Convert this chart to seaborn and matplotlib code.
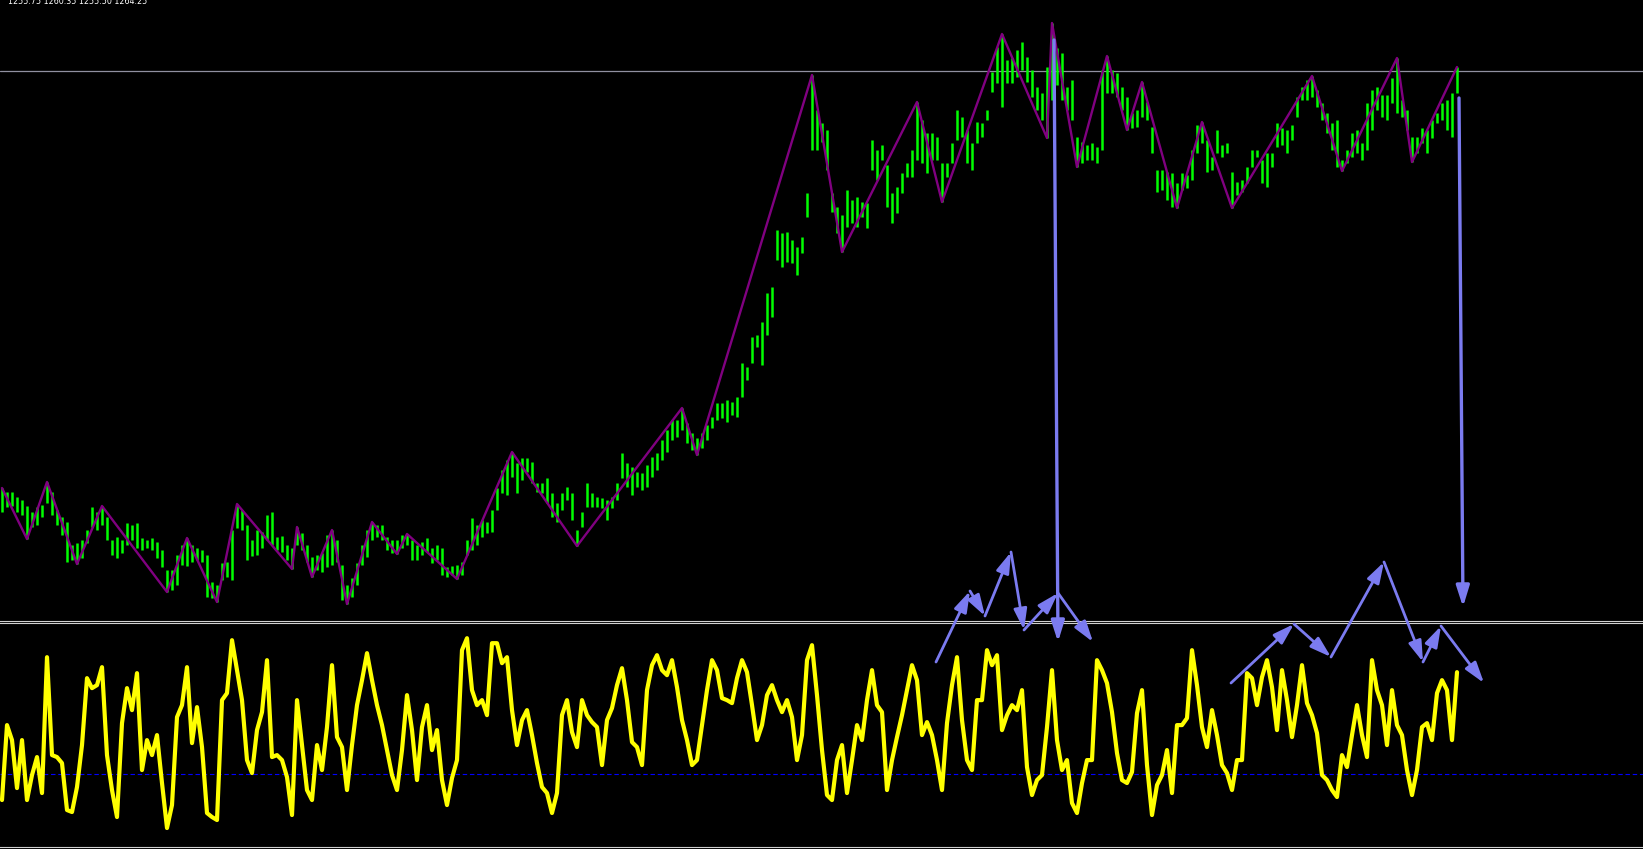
import numpy as np
import pandas as pd
import seaborn as sns
import matplotlib.pyplot as plt

# -----------------------------
# Price bars (high / low), one per bar index
bar_high = [812, 808, 808, 803, 800, 794, 788, 793, 795, 818,
            808, 790, 783, 778, 755, 757, 760, 770, 793, 788,
            794, 783, 760, 763, 760, 777, 775, 777, 762, 760,
            762, 758, 750, 730, 730, 745, 755, 762, 755, 752,
            750, 745, 718, 715, 737, 738, 770, 796, 790, 775,
            760, 770, 768, 785, 788, 763, 764, 755, 752, 773,
            767, 755, 743, 745, 747, 765, 770, 760, 735, 715,
            722, 737, 755, 770, 778, 775, 775, 763, 760, 760,
            765, 766, 760, 755, 758, 762, 752, 755, 752, 733,
            734, 735, 738, 760, 782, 775, 780, 778, 790, 812,
            830, 840, 848, 837, 842, 842, 838, 817, 817, 822,
            807, 797, 807, 813, 807, 770, 788, 817, 807, 803,
            802, 800, 803, 817, 847, 837, 833, 828, 827, 835,
            843, 847, 860, 870, 880, 880, 892, 877, 867, 862,
            867, 875, 883, 897, 897, 900, 898, 903, 937, 933,
            963, 965, 978, 1007, 1013, 1070, 1067, 1068, 1060, 1053,
            1063, 1107, 1225, 1190, 1177, 1170, 1107, 1093, 1085, 1110,
            1100, 1103, 1098, 1097, 1160, 1150, 1155, 1135, 1107, 1113,
            1127, 1137, 1150, 1198, 1180, 1167, 1167, 1163, 1137, 1137,
            1157, 1190, 1183, 1170, 1157, 1178, 1177, 1190, 1228, 1253,
            1266, 1240, 1242, 1250, 1258, 1243, 1230, 1213, 1207, 1233,
            1277, 1252, 1247, 1213, 1220, 1163, 1158, 1155, 1157, 1153,
            1230, 1244, 1230, 1227, 1213, 1203, 1187, 1190, 1218, 1198,
            1173, 1130, 1130, 1128, 1127, 1117, 1127, 1125, 1150, 1175,
            1178, 1160, 1143, 1170, 1155, 1157, 1128, 1118, 1120, 1133,
            1150, 1150, 1140, 1147, 1147, 1177, 1172, 1170, 1175, 1203,
            1213, 1220, 1224, 1210, 1197, 1187, 1177, 1180, 1140, 1150,
            1167, 1170, 1157, 1197, 1210, 1213, 1205, 1205, 1222, 1242,
            1200, 1190, 1163, 1163, 1172, 1170, 1180, 1187, 1197, 1200,
            1207, 1233]
bar_low = [788, 793, 794, 788, 785, 761, 773, 775, 783, 797,
           785, 775, 765, 738, 740, 736, 742, 757, 773, 770,
           775, 760, 745, 742, 747, 755, 760, 752, 750, 752,
           750, 742, 733, 708, 710, 715, 735, 734, 738, 740,
           738, 703, 702, 698, 720, 723, 720, 772, 770, 740,
           744, 745, 752, 760, 755, 750, 748, 740, 731, 755,
           750, 738, 723, 730, 728, 733, 735, 738, 700, 696,
           703, 715, 735, 743, 760, 763, 760, 750, 747, 746,
           752, 755, 740, 740, 745, 748, 737, 740, 725, 723,
           725, 721, 725, 745, 750, 755, 763, 767, 768, 790,
           807, 805, 823, 807, 820, 828, 817, 808, 807, 797,
           783, 778, 790, 800, 780, 754, 773, 793, 793, 793,
           792, 780, 792, 800, 822, 813, 805, 813, 810, 813,
           823, 830, 840, 848, 860, 863, 870, 857, 850, 845,
           852, 860, 872, 880, 882, 878, 885, 883, 903, 920,
           937, 953, 935, 965, 983, 1040, 1033, 1038, 1037, 1025,
           1047, 1083, 1150, 1150, 1158, 1130, 1088, 1067, 1048, 1073,
           1077, 1073, 1083, 1072, 1130, 1120, 1140, 1093, 1077, 1087,
           1107, 1123, 1123, 1140, 1137, 1127, 1140, 1140, 1098, 1123,
           1137, 1160, 1163, 1137, 1130, 1157, 1163, 1180, 1208, 1217,
           1193, 1217, 1217, 1223, 1230, 1218, 1203, 1190, 1180, 1162,
           1200, 1215, 1200, 1190, 1180, 1133, 1137, 1140, 1140, 1137,
           1150, 1207, 1207, 1203, 1190, 1170, 1172, 1173, 1183, 1180,
           1147, 1108, 1110, 1100, 1093, 1092, 1110, 1112, 1120, 1147,
           1157, 1128, 1130, 1147, 1143, 1147, 1092, 1105, 1108, 1117,
           1133, 1143, 1117, 1113, 1133, 1153, 1155, 1147, 1160, 1183,
           1200, 1200, 1203, 1193, 1180, 1167, 1150, 1133, 1129, 1137,
           1143, 1147, 1140, 1150, 1170, 1190, 1183, 1180, 1197, 1187,
           1183, 1170, 1138, 1147, 1157, 1147, 1162, 1177, 1180, 1170,
           1163, 1207]

# zigzag pivots (bar index, price)
zz_idx = [0, 5, 9, 15, 20, 33, 37, 43, 47, 58, 59, 62, 66, 69, 74, 79, 81, 91,
          102, 115, 136, 139, 162, 168, 183, 188, 200, 209, 210, 215, 221, 225,
          228, 235, 240, 246, 262, 268, 279, 282, 291]
zz_price = [812, 761, 818, 736, 794, 708, 762, 698, 796, 731, 773, 723, 770, 696,
            778, 746, 766, 721, 848, 754, 892, 845, 1225, 1048, 1198, 1098, 1266,
            1162, 1277, 1133, 1244, 1170, 1218, 1092, 1178, 1092, 1224, 1129,
            1242, 1138, 1233]

# oscillator, one value per bar
osc = [50, 125, 110, 62, 110, 50, 75, 93, 57, 193,
       95, 93, 87, 40, 38, 63, 105, 172, 162, 165,
       183, 95, 60, 33, 127, 162, 140, 177, 80, 110,
       95, 115, 67, 22, 45, 133, 145, 183, 107, 143,
       103, 37, 33, 30, 150, 157, 210, 180, 150, 90,
       77, 120, 138, 190, 93, 95, 90, 73, 35, 150,
       105, 60, 50, 105, 80, 123, 185, 113, 103, 60,
       105, 145, 170, 197, 170, 145, 125, 100, 75, 60,
       100, 155, 120, 70, 123, 145, 100, 120, 70, 45,
       72, 90, 200, 212, 160, 145, 150, 135, 207, 207,
       187, 193, 140, 105, 130, 140, 115, 87, 63, 57,
       37, 57, 135, 150, 118, 103, 150, 135, 128, 123,
       85, 130, 142, 165, 182, 150, 108, 103, 85, 160,
       185, 195, 180, 175, 190, 163, 130, 110, 85, 90,
       125, 160, 190, 180, 152, 150, 147, 172, 190, 178,
       145, 110, 125, 155, 165, 150, 138, 150, 133, 90,
       115, 190, 205, 155, 100, 55, 50, 90, 105, 57,
       90, 125, 110, 150, 180, 145, 138, 60, 90, 113,
       135, 160, 185, 170, 115, 128, 115, 90, 60, 127,
       165, 193, 130, 90, 80, 150, 150, 200, 185, 195,
       120, 135, 145, 140, 160, 83, 55, 70, 75, 123,
       180, 110, 80, 90, 47, 37, 67, 90, 90, 190,
       180, 167, 138, 97, 70, 67, 78, 137, 160, 85,
       35, 65, 75, 100, 57, 125, 125, 132, 200, 165,
       123, 103, 140, 115, 85, 77, 60, 90, 90, 177,
       172, 145, 173, 190, 163, 120, 180, 150, 113, 145,
       185, 147, 135, 117, 75, 70, 60, 53, 95, 83,
       115, 145, 115, 93, 190, 160, 145, 105, 160, 125,
       115, 80, 55, 80, 123, 127, 110, 157, 170, 160,
       110, 178]
osc_level = 76
price_line = 1229
header_text = "1255.75 1260.35 1255.50 1264.25"

# hand-drawn arrows (bar index, price)
arrows_left = [(186.8, 638), (193.6, 709), (196.6, 684), (201.8, 748),
               (204.4, 670), (211.2, 707), (218.2, 658)]
arrows_right = [(245.8, 617), (258.4, 676), (265.8, 643), (276.4, 738),
                (284.2, 638), (287.8, 674), (296.4, 617)]
arrows_vertical = [((210.4, 1260), (211.2, 658)), ((291.4, 1202), (292.2, 693))]

# -----------------------------
df_bars = pd.DataFrame({"idx": np.arange(len(bar_high)), "high": bar_high, "low": bar_low})
df_zz = pd.DataFrame({"idx": zz_idx, "price": zz_price})
df_osc = pd.DataFrame({"idx": np.arange(len(osc)), "osc": osc})

sns.set_theme(style="dark", rc={"axes.facecolor": "black", "figure.facecolor": "black"})

W, H = 1643, 849
fig = plt.figure(figsize=(W / 100, H / 100), dpi=100)
xlim = (-0.4, 328.2)

ax = fig.add_axes([0, (H - 620.7) / H, 1, 620.7 / H])
ax2 = fig.add_axes([0, (H - 846.7) / H, 1, (846.7 - 622.7) / H])
ov = fig.add_axes([0, 0, 1, 1])

for a in (ax, ax2, ov):
    a.set_facecolor("none")
    a.set_xlim(*xlim)
    a.set_xticks([])
    a.set_yticks([])
    a.grid(False)
    for s in a.spines.values():
        s.set_visible(False)

# price panel
ax.set_ylim(679.3, 1300)
ax.axhline(price_line, color="#9090a0", lw=0.9, zorder=1)
ax.vlines(df_bars["idx"], df_bars["low"], df_bars["high"], color="#00ff00", lw=1.8, zorder=2)
sns.lineplot(data=df_zz, x="idx", y="price", ax=ax, color="#800080", lw=1.7,
             estimator=None, sort=False, zorder=3)
ax.spines["bottom"].set_visible(True)
ax.spines["bottom"].set_color("#d0d0d0")
ax.spines["bottom"].set_linewidth(0.8)
ax.set_xlabel("")
ax.set_ylabel("")

# oscillator panel
ax2.set_ylim(3.3, 227.5)
ax2.axhline(osc_level, color="#0000ff", lw=0.8, ls=(0, (4, 2.5)), zorder=1)
sns.lineplot(data=df_osc, x="idx", y="osc", ax=ax2, color="#ffff00", lw=3,
             estimator=None, sort=False, zorder=2)
for side in ("top", "bottom"):
    ax2.spines[side].set_visible(True)
    ax2.spines[side].set_color("#d0d0d0")
    ax2.spines[side].set_linewidth(0.8)
ax2.set_xlabel("")
ax2.set_ylabel("")

# arrows overlay (same price scale across whole figure)
ov.set_ylim(1300 - H, 1300)
ov.axis("off")
arrow_col = "#7b7bf0"
style = "-|>,head_length=0.7,head_width=0.22"
for chain in (arrows_left, arrows_right):
    for p0, p1 in zip(chain[:-1], chain[1:]):
        ov.annotate("", xy=p1, xytext=p0, annotation_clip=False,
                    arrowprops=dict(arrowstyle=style, color=arrow_col, lw=2,
                                    mutation_scale=18, shrinkA=0, shrinkB=0))
for p0, p1 in arrows_vertical:
    ov.annotate("", xy=p1, xytext=p0, annotation_clip=False,
                arrowprops=dict(arrowstyle=style, color=arrow_col, lw=2.4,
                                mutation_scale=18, shrinkA=0, shrinkB=0))

fig.text(8 / W, 1 - 4 / H, header_text, color="white", fontsize=5.8,
         va="baseline", ha="left")

fig.savefig("out.png", dpi=100, facecolor="black")
